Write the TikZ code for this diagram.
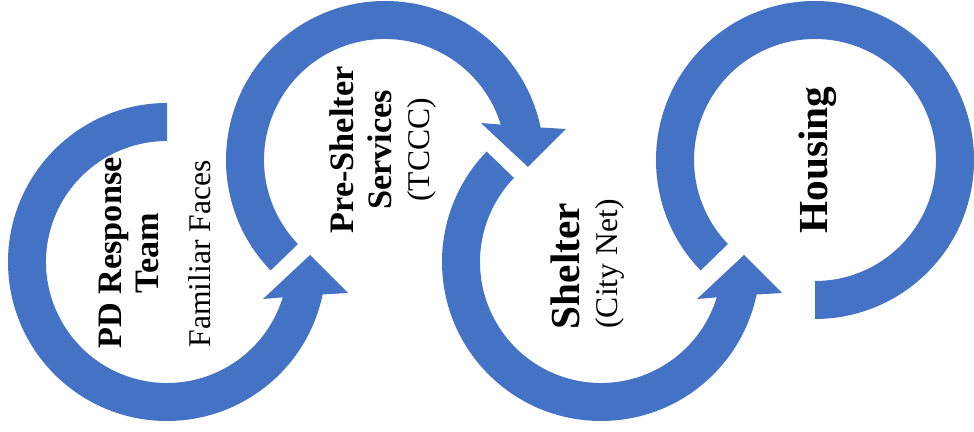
\documentclass[tikz,border=0pt]{standalone}
\usepackage{fontspec}
\setmainfont{Liberation Serif}
\usepackage{xcolor}
\usepackage{tikz}
\definecolor{ringblue}{HTML}{4472C4}

\begin{document}
\begin{tikzpicture}[
  x=0.02cm, y=0.02cm,
  ring/.style={fill=ringblue, draw=none},
  head/.style={rotate=90, align=center, inner sep=0pt, font=\bfseries\fontsize{19.5}{21.5}\selectfont},
  bighead/.style={rotate=90, align=center, inner sep=0pt, font=\bfseries\fontsize{23.5}{25}\selectfont},
  sub/.style={rotate=90, align=center, inner sep=0pt, font=\fontsize{18}{20}\selectfont}
]
\useasboundingbox (0,0) rectangle (974,432);
% rings
\begin{scope}[shift={(167,170)}]
  \fill[ring] (90:159) arc[start angle=90, end angle=348.2, radius=159] -- (181,-31) -- (143,7) -- (96,-37)
    -- (343:121) arc[start angle=343, end angle=90, radius=121] -- cycle;
\end{scope}
\begin{scope}[shift={(385,272)}]
  \fill[ring] (224:159) arc[start angle=224, end angle=11.8, radius=159] -- (181,31) -- (143,-7) -- (96,37)
    -- (17:121) arc[start angle=17, end angle=224, radius=121] -- cycle;
\end{scope}
\begin{scope}[shift={(601,170)}]
  \fill[ring] (136:159) arc[start angle=136, end angle=348.2, radius=159] -- (181,-31) -- (143,7) -- (96,-37)
    -- (343:121) arc[start angle=343, end angle=136, radius=121] -- cycle;
\end{scope}
\begin{scope}[shift={(815,272)}]
  \fill[ring] (224:159) arc[start angle=224, end angle=-90, radius=159]
    -- (-90:121) arc[start angle=-90, end angle=224, radius=121] -- cycle;
\end{scope}
% labels
\node[head] (pd) at (129,179) {PD Response\\Team};
\node[sub] (faces) at (200,178) {Familiar Faces};
\node[head] (pre) at (361,282) {Pre-Shelter\\Services};
\node[sub] (tccc) at (422,282) {(TCCC)};
\node[bighead] (shelter) at (565,166) {Shelter};
\node[sub] (citynet) at (610,168) {(City Net)};
\node[bighead] (housing) at (818,272) {Housing};
\end{tikzpicture}
\end{document}
